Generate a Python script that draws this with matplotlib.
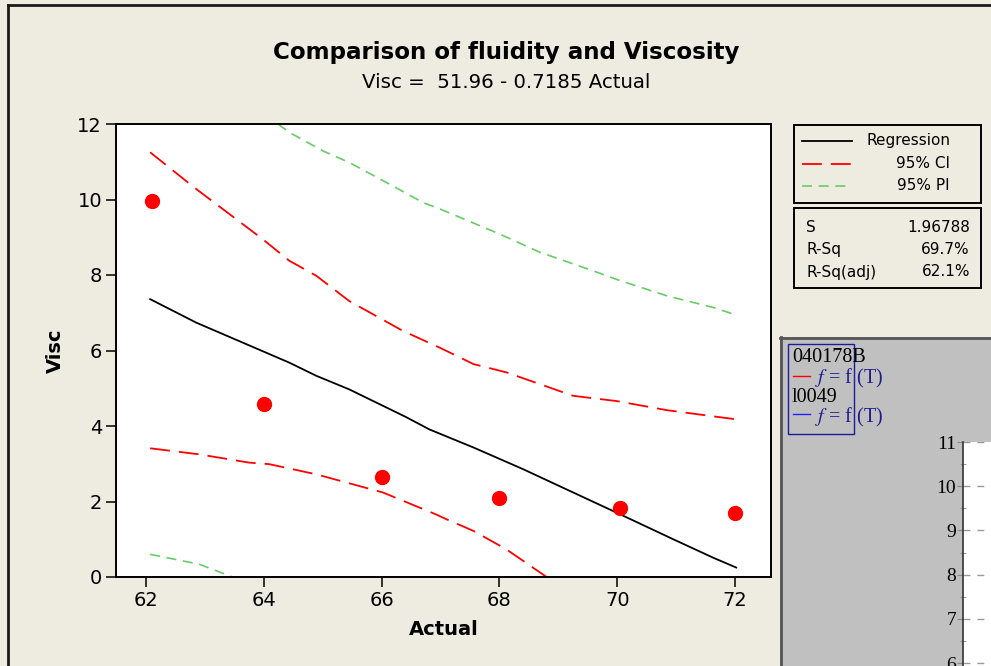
import matplotlib
matplotlib.use("Agg")
import matplotlib.pyplot as plt
from matplotlib.patches import Rectangle
from matplotlib.lines import Line2D
from matplotlib.ticker import MultipleLocator

plt.rcParams['font.family'] = ['DejaVu Sans']
plt.rcParams['mathtext.fontset'] = 'stix'

# Observed data
actual = [62.1, 64.0, 66.0, 68.0, 70.05, 72.0]
visc = [9.95, 4.58, 2.66, 2.10, 1.82, 1.69]

# Fitted regression line
reg_x = [62.07, 62.85, 63.64, 64.43, 64.89, 65.45, 66.41, 66.81, 67.56,
         68.41, 69.25, 70.05, 70.95, 71.63, 72.02]
reg_y = [7.36, 6.74, 6.21, 5.68, 5.33, 4.97, 4.24, 3.91, 3.43,
         2.85, 2.24, 1.66, 1.00, 0.51, 0.25]

# 95% confidence band
ci_hi_x = [62.07, 62.85, 63.19, 63.64, 63.98, 64.43, 64.89, 65.45, 66.36,
           66.98, 67.56, 68.12, 69.25, 69.99, 70.84, 72.0]
ci_hi_y = [11.25, 10.28, 9.88, 9.35, 8.95, 8.38, 7.98, 7.31, 6.52,
           6.08, 5.64, 5.42, 4.80, 4.66, 4.42, 4.18]
ci_lo_x = [62.07, 62.9, 63.75, 64.09, 64.89, 66.02, 66.92, 67.1, 67.56, 68.12, 68.8]
ci_lo_y = [3.41, 3.25, 3.03, 2.99, 2.72, 2.24, 1.66, 1.53, 1.22, 0.73, 0.0]

# 95% prediction band
pi_hi_x = [64.24, 64.43, 65.0, 65.45, 66.13, 66.7, 66.99, 68.01, 68.69,
           69.59, 70.05, 70.84, 71.63, 71.94]
pi_hi_y = [12.0, 11.78, 11.29, 10.98, 10.41, 9.92, 9.75, 9.08, 8.6,
           8.11, 7.85, 7.45, 7.14, 6.98]
pi_lo_x = [62.07, 62.9, 63.47]
pi_lo_y = [0.60, 0.34, 0.0]

x_ticks = [62, 64, 66, 68, 70, 72]
y_ticks = [0, 2, 4, 6, 8, 10, 12]

stat_names = ["S", "R-Sq", "R-Sq(adj)"]
stat_values = ["1.96788", "69.7%", "62.1%"]
legend_labels = ["Regression", "95% CI", "95% PI"]

side_ticks = [6, 7, 8, 9, 10, 11]

W, H = 991, 666
BG = "#eeebe0"
RED = "#ff0000"
GREEN = "#66cc66"

reg_style = dict(color="black", lw=1.3, ls="-")
ci_style = dict(color=RED, lw=1.3, ls=(0, (11, 5)))
pi_style = dict(color=GREEN, lw=1.2, ls=(0, (6, 4)))

fig = plt.figure(figsize=(W / 100, H / 100), dpi=100, facecolor=BG)


def fx(px):
    return px / W


def fy(py):
    return 1 - py / H


# Main regression plot
ax = fig.add_axes([fx(116), fy(577), fx(771) - fx(116), fy(124) - fy(577)])
ax.set_facecolor("white")
ax.plot(reg_x, reg_y, **reg_style)
ax.plot(ci_hi_x, ci_hi_y, **ci_style)
ax.plot(ci_lo_x, ci_lo_y, **ci_style)
ax.plot(pi_hi_x, pi_hi_y, **pi_style)
ax.plot(pi_lo_x, pi_lo_y, **pi_style)
ax.plot(actual, visc, "o", color=RED, ms=10, mec=RED, zorder=5)
ax.set_xlim(61.49, 72.61)
ax.set_ylim(0, 12)
ax.set_xticks(x_ticks)
ax.set_yticks(y_ticks)
ax.tick_params(direction="out", length=7, width=1.1, labelsize=14, pad=3, colors="black")
for s in ax.spines.values():
    s.set_linewidth(1.4)
ax.set_xlabel("Actual", fontsize=14, fontweight="bold", labelpad=7)
ax.set_ylabel("Visc", fontsize=14, fontweight="bold", labelpad=9)

fig.text(fx(506), fy(53), "Comparison of fluidity and Viscosity",
         ha="center", va="center", fontsize=16.6, fontweight="bold")
fig.text(fx(506), fy(82), "Visc =  51.96 - 0.7185 Actual",
         ha="center", va="center", fontsize=14.2)

# Pixel-coordinate overlay for frames, legend and side panel
ov = fig.add_axes([0, 0, 1, 1], zorder=1)
ov.set_xlim(0, W)
ov.set_ylim(H, 0)
ov.axis("off")
ov.patch.set_visible(False)

# Outer frame
ov.add_line(Line2D([8, 8], [5, H], color="#1a1a1a", lw=2))
ov.add_line(Line2D([8, W], [5, 5], color="#1a1a1a", lw=2))

# Legend box
ov.add_patch(Rectangle((794, 125), 187, 78, fill=False, ec="black", lw=1.4))
styles = [reg_style, ci_style, pi_style]
for i, (lab, st) in enumerate(zip(legend_labels, styles)):
    yy = 141 + i * 22.5
    ov.add_line(Line2D([802, 852], [yy, yy], **st))
    ov.text(950, yy, lab, ha="right", va="center", fontsize=11)

# Statistics box
ov.add_patch(Rectangle((794, 208), 187, 80, fill=False, ec="black", lw=1.4))
for i, (nm, val) in enumerate(zip(stat_names, stat_values)):
    yy = 227 + i * 22.5
    ov.text(806, yy, nm, ha="left", va="center", fontsize=11)
    ov.text(970, yy, val, ha="right", va="center", fontsize=11)

# Side panel
ov.add_patch(Rectangle((780, 337), W - 780, H - 337, fc="#c0c0c0", ec="none"))
ov.add_line(Line2D([780, W], [337.5, 337.5], color="#555555", lw=2))
ov.add_line(Line2D([780.5, 780.5], [337, H], color="#555555", lw=2))
ov.add_patch(Rectangle((788, 344), 66, 90, fill=False, ec="#1c1c9c", lw=1))
serif = ["Liberation Serif", "DejaVu Serif"]
ov.text(792, 357, "040178B", ha="left", va="center", fontsize=14.5, family=serif)
ov.text(792, 397, "l0049", ha="left", va="center", fontsize=14.5, family=serif)
ov.add_line(Line2D([793, 810], [376, 376], color=RED, lw=1))
ov.add_line(Line2D([793, 810], [414, 414], color="#2020ff", lw=1))
for yy in (378, 417):
    ov.text(815, yy, r"$f$ = f (T)", ha="left", va="center", fontsize=14.5,
            family=serif, color="#1c1c8c")

# Side chart
side = fig.add_axes([fx(963), fy(442 + 11 * 44.2), 0.2, fy(442) - fy(442 + 11 * 44.2)], zorder=2)
side.set_facecolor("white")
side.set_ylim(0, 11)
side.set_xlim(0, 1)
side.set_yticks(side_ticks)
side.set_yticklabels([str(t) for t in side_ticks], family=serif, fontsize=14)
side.yaxis.set_minor_locator(MultipleLocator(0.5))
side.tick_params(axis="y", which="major", direction="out", length=4, color="#888888", pad=1)
side.tick_params(axis="y", which="minor", direction="inout", length=4, color="#888888")
side.set_xticks([])
side.grid(axis="y", which="major", color="#999999", ls=(0, (5, 5)), lw=1)
for k in ("top", "right", "bottom"):
    side.spines[k].set_visible(False)
side.spines["left"].set_color("#333333")
side.spines["left"].set_linewidth(1.2)

fig.savefig("out.png", dpi=100, facecolor=BG)
